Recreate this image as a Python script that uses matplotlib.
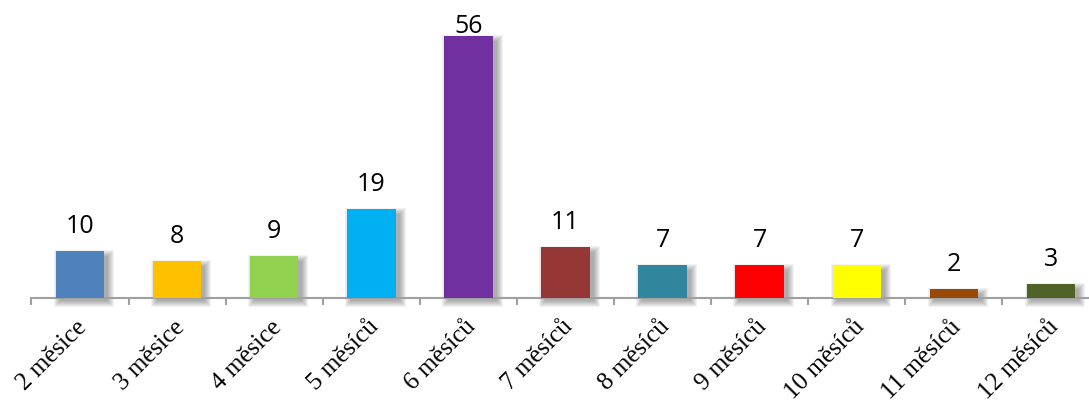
import matplotlib
matplotlib.use("Agg")
import matplotlib.pyplot as plt
from matplotlib.patches import Rectangle

# počet respondentů podle délky
kategorie = ["2 měsice", "3 měsice", "4 měsice", "5 měsíců", "6 měsíců", "7 měsíců",
             "8 měsíců", "9 měsíců", "10 měsíců", "11 měsíců", "12 měsíců"]
hodnoty = [10, 8, 9, 19, 56, 11, 7, 7, 7, 2, 3]
barvy = ["#4F81BD", "#FFC000", "#92D050", "#00B0F0", "#7030A0", "#953735",
         "#31859C", "#FF0000", "#FFFF00", "#984807", "#4F6228"]

W, H = 1089, 403
fig = plt.figure(figsize=(W / 100, H / 100), dpi=100)
osa_y = 298          # pixel řádek osy x
krok = 97.1          # šířka jedné kategorie v pixelech
x0 = 80              # střed prvního sloupce
ppu = 4.679          # pixely na jednotku hodnoty

ax = fig.add_axes([0, (H - osa_y) / H, 1, osa_y / H])
ax.set_xlim(-x0 / krok, (W - x0) / krok)
ax.set_ylim(0, osa_y / ppu)

px_x = 1 / krok
px_y = 1 / ppu
sirka = 0.5

# měkký stín vpravo dole
for i, v in enumerate(hodnoty):
    left = i - sirka / 2 + 4 * px_x
    bottom = -3 * px_y
    for k in range(0, 7):
        r = Rectangle((left - k * px_x, bottom - k * px_y),
                      sirka + 2 * k * px_x, v + 2 * k * px_y - 2 * px_y,
                      facecolor="black", alpha=0.05, lw=0, clip_on=False, zorder=1)
        ax.add_patch(r)

ax.bar(range(len(hodnoty)), hodnoty, width=sirka, color=barvy, zorder=3)

ymax = ax.get_ylim()[1]
for i, v in enumerate(hodnoty):
    y = min(v + 18 * px_y, ymax - 33 * px_y)
    ax.text(i, y, str(v), ha="center", va="baseline", fontsize=18,
            family="Open Sans", color="black", zorder=4)

for s in ["top", "left", "right"]:
    ax.spines[s].set_visible(False)
ax.spines["bottom"].set_color("#A0A0A0")
ax.spines["bottom"].set_linewidth(1.5)
ax.spines["bottom"].set_bounds(-0.5, ax.get_xlim()[1])
ax.set_yticks([])
ax.set_xticks([k - 0.5 for k in range(len(hodnoty))])
ax.tick_params(axis="x", direction="out", length=5, width=1.5, color="#A0A0A0",
               labelbottom=False)

for i, nazev in enumerate(kategorie):
    ax.text(i - 4 * px_x, -18 * px_y, nazev, rotation=45, rotation_mode="anchor",
            ha="right", va="top", fontsize=18, family="Liberation Serif",
            clip_on=False)

fig.savefig("out.png", dpi=100)
